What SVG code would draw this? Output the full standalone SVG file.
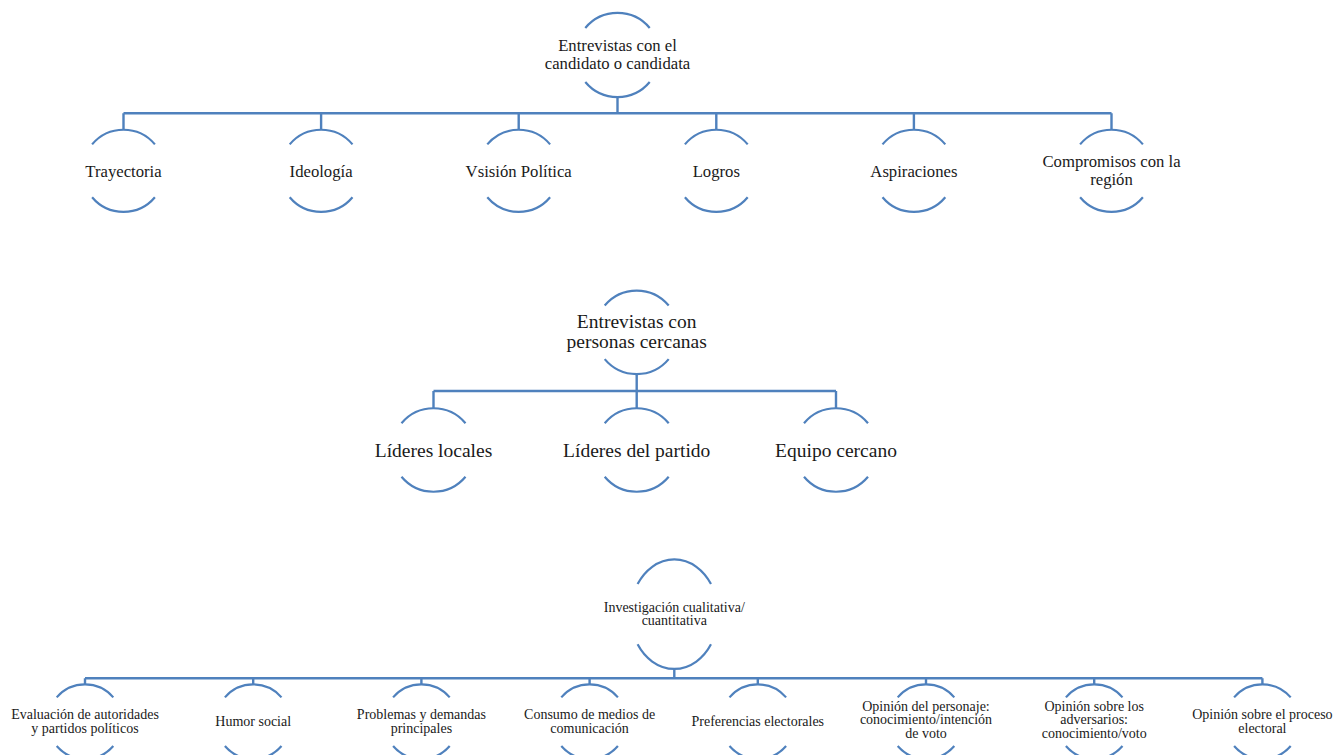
<svg xmlns="http://www.w3.org/2000/svg" width="1338" height="755" viewBox="0 0 1338 755">
<style>
.arc{fill:none;stroke:#4f81bd;stroke-width:2.2}
.conn{fill:none;stroke:#4f81bd;stroke-width:2.4}
text{font-family:"Liberation Serif","Times New Roman",serif;fill:#1a1a1a;text-anchor:middle}
.t1{font-size:16.7px}
.t2{font-size:19.5px}
.t3{font-size:14px}
</style>
<rect width="1338" height="755" fill="#ffffff"/>
<g id="connectors">
<path class="conn" d="M617.5,97 V113.3 M123.5,113.3 H1111.5 M123.5,113.3 V130 M321.1,113.3 V130 M518.7,113.3 V130 M716.3,113.3 V130 M913.9,113.3 V130 M1111.5,113.3 V130"/>
<path class="conn" d="M636.7,374 V391 M433.5,391 H836 M433.5,391 V408.3 M636.7,391 V408.3 M836,391 V408.3"/>
<path class="conn" d="M674.3,669.2 V678.3 M85,678.3 H1262.4 M85,678.3 V684.5 M253.2,678.3 V684.5 M421.4,678.3 V684.5 M589.6,678.3 V684.5 M757.8,678.3 V684.5 M926,678.3 V684.5 M1094.2,678.3 V684.5 M1262.4,678.3 V684.5"/>
</g>
<g id="n-root1">
<path class="arc" d="M585.3,28 A42,42 0 0 1 649.7,28 M585.3,82 A42,42 0 0 0 649.7,82"/>
<text class="t1" x="617.5" y="50.8">Entrevistas con el</text>
<text class="t1" x="617.5" y="68.6">candidato o candidata</text>
</g>
<g id="n-trayectoria">
<path class="arc" d="M92.1,144.4 A41,41 0 0 1 154.9,144.4 M92.1,197.2 A41,41 0 0 0 154.9,197.2"/>
<text class="t1" x="123.5" y="177.3">Trayectoria</text>
</g>
<g id="n-ideologia">
<path class="arc" d="M289.7,144.4 A41,41 0 0 1 352.5,144.4 M289.7,197.2 A41,41 0 0 0 352.5,197.2"/>
<text class="t1" x="321.1" y="177.3">Ideología</text>
</g>
<g id="n-vision">
<path class="arc" d="M487.3,144.4 A41,41 0 0 1 550.1,144.4 M487.3,197.2 A41,41 0 0 0 550.1,197.2"/>
<text class="t1" x="518.7" y="177.3">Vsisión Política</text>
</g>
<g id="n-logros">
<path class="arc" d="M684.9,144.4 A41,41 0 0 1 747.7,144.4 M684.9,197.2 A41,41 0 0 0 747.7,197.2"/>
<text class="t1" x="716.3" y="177.3">Logros</text>
</g>
<g id="n-aspiraciones">
<path class="arc" d="M882.5,144.4 A41,41 0 0 1 945.3,144.4 M882.5,197.2 A41,41 0 0 0 945.3,197.2"/>
<text class="t1" x="913.9" y="177.3">Aspiraciones</text>
</g>
<g id="n-compromisos">
<path class="arc" d="M1080.1,144.4 A41,41 0 0 1 1142.9,144.4 M1080.1,197.2 A41,41 0 0 0 1142.9,197.2"/>
<text class="t1" x="1111.5" y="166.6">Compromisos con la</text>
<text class="t1" x="1111.5" y="184.5">región</text>
</g>
<g id="n-root2">
<path class="arc" d="M604.7,305.5 A41.7,41.7 0 0 1 668.7,305.5 M604.7,359.1 A41.7,41.7 0 0 0 668.7,359.1"/>
<text class="t2" x="636.7" y="327.8">Entrevistas con</text>
<text class="t2" x="636.7" y="348.4">personas cercanas</text>
</g>
<g id="n-lideres-locales">
<path class="arc" d="M401.5,423.2 A41.7,41.7 0 0 1 465.5,423.2 M401.5,476.8 A41.7,41.7 0 0 0 465.5,476.8"/>
<text class="t2" x="433.5" y="457.3">Líderes locales</text>
</g>
<g id="n-lideres-partido">
<path class="arc" d="M604.7,423.2 A41.7,41.7 0 0 1 668.7,423.2 M604.7,476.8 A41.7,41.7 0 0 0 668.7,476.8"/>
<text class="t2" x="636.7" y="457.3">Líderes del partido</text>
</g>
<g id="n-equipo">
<path class="arc" d="M804,423.2 A41.7,41.7 0 0 1 868,423.2 M804,476.8 A41.7,41.7 0 0 0 868,476.8"/>
<text class="t2" x="836" y="457.3">Equipo cercano</text>
</g>
<g id="n-root3">
<path class="arc" d="M637.6,584.1 A44,55 0 0 1 711,584.1 M637.6,644.3 A44,55 0 0 0 711,644.3"/>
<text class="t3" x="674.3" y="611.7">Investigación cualitativa/</text>
<text class="t3" x="674.3" y="625.2">cuantitativa</text>
</g>
<g id="n-evaluacion">
<path class="arc" d="M56.7,697.4 A37.3,37.3 0 0 1 113.3,697.4 M56.7,746 A37.3,37.3 0 0 0 113.3,746"/>
<text class="t3" x="85" y="719">Evaluación de autoridades</text>
<text class="t3" x="85" y="732.7">y partidos políticos</text>
</g>
<g id="n-humor">
<path class="arc" d="M224.9,697.4 A37.3,37.3 0 0 1 281.5,697.4 M224.9,746 A37.3,37.3 0 0 0 281.5,746"/>
<text class="t3" x="253.2" y="726">Humor social</text>
</g>
<g id="n-problemas">
<path class="arc" d="M393.1,697.4 A37.3,37.3 0 0 1 449.7,697.4 M393.1,746 A37.3,37.3 0 0 0 449.7,746"/>
<text class="t3" x="421.4" y="719">Problemas y demandas</text>
<text class="t3" x="421.4" y="732.7">principales</text>
</g>
<g id="n-consumo">
<path class="arc" d="M561.3,697.4 A37.3,37.3 0 0 1 617.9,697.4 M561.3,746 A37.3,37.3 0 0 0 617.9,746"/>
<text class="t3" x="589.6" y="719">Consumo de medios de</text>
<text class="t3" x="589.6" y="732.7">comunicación</text>
</g>
<g id="n-preferencias">
<path class="arc" d="M729.5,697.4 A37.3,37.3 0 0 1 786.1,697.4 M729.5,746 A37.3,37.3 0 0 0 786.1,746"/>
<text class="t3" x="757.8" y="726">Preferencias electorales</text>
</g>
<g id="n-opinion-personaje">
<path class="arc" d="M897.7,697.4 A37.3,37.3 0 0 1 954.3,697.4 M897.7,746 A37.3,37.3 0 0 0 954.3,746"/>
<text class="t3" x="926" y="710.7">Opinión del personaje:</text>
<text class="t3" x="926" y="724.3">conocimiento/intención</text>
<text class="t3" x="926" y="737.8">de voto</text>
</g>
<g id="n-opinion-adversarios">
<path class="arc" d="M1065.9,697.4 A37.3,37.3 0 0 1 1122.5,697.4 M1065.9,746 A37.3,37.3 0 0 0 1122.5,746"/>
<text class="t3" x="1094.2" y="710.7">Opinión sobre los</text>
<text class="t3" x="1094.2" y="724.3">adversarios:</text>
<text class="t3" x="1094.2" y="737.8">conocimiento/voto</text>
</g>
<g id="n-opinion-proceso">
<path class="arc" d="M1234.1,697.4 A37.3,37.3 0 0 1 1290.7,697.4 M1234.1,746 A37.3,37.3 0 0 0 1290.7,746"/>
<text class="t3" x="1262.4" y="719">Opinión sobre el proceso</text>
<text class="t3" x="1262.4" y="732.7">electoral</text>
</g>
</svg>
